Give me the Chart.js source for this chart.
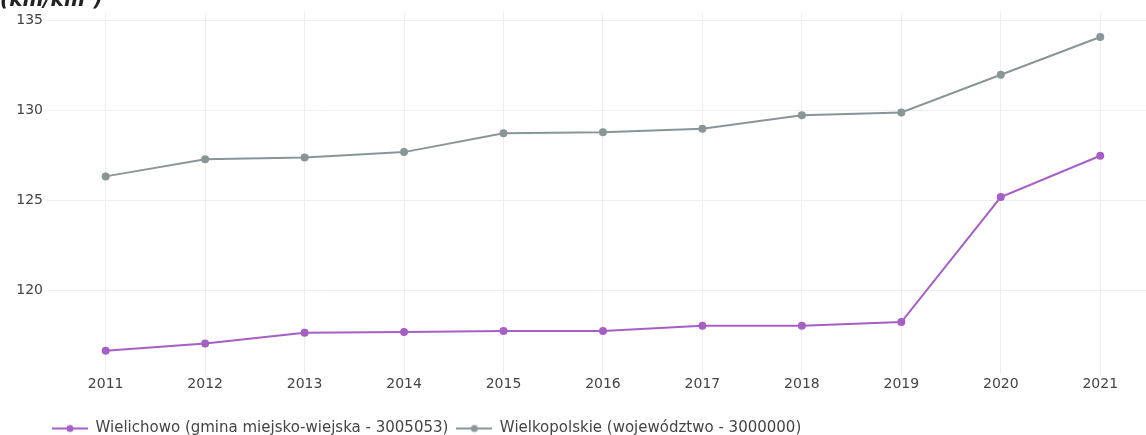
<!DOCTYPE html>
<html>
<head>
<meta charset="utf-8">
<script src="https://cdn.jsdelivr.net/npm/chart.js@4/dist/chart.umd.min.js"></script>
<style>
  html, body { margin: 0; padding: 0; background: #fff; overflow: hidden; }
  #wrap { position: relative; width: 1146px; height: 435px; }
  #unit { position: absolute; left: 0; top: -13px; font: italic bold 20px "DejaVu Sans", sans-serif; color: #222; }
</style>
</head>
<body>
<div id="wrap">
  <canvas id="wykres" width="1146" height="435"></canvas>
  <div id="unit">(km/km²)</div>
</div>
<script>
// lata i wartosci
const lata = [2011, 2012, 2013, 2014, 2015, 2016, 2017, 2018, 2019, 2020, 2021];
const wielichowo = [116.65, 117.05, 117.65, 117.7, 117.75, 117.75, 118.05, 118.05, 118.25, 125.2, 127.5];
const wielkopolskie = [126.35, 127.3, 127.4, 127.7, 128.75, 128.8, 129.0, 129.75, 129.9, 132.0, 134.1];
const etykiety = ['Wielichowo (gmina miejsko-wiejska - 3005053)', 'Wielkopolskie (województwo - 3000000)'];
const yTicks = [120, 125, 130, 135];

const fioletowy = '#a55fc5';
const szary = '#8a9696';

function symbol(kolor){ // kreska z kropka jak w legendzie plotly
  const c = document.createElement('canvas');
  c.width = 36; c.height = 10;
  const g = c.getContext('2d');
  g.strokeStyle = kolor; g.lineWidth = 2;
  g.beginPath(); g.moveTo(0, 5); g.lineTo(36, 5); g.stroke();
  g.fillStyle = kolor;
  g.beginPath(); g.arc(18, 5, 3.5, 0, Math.PI * 2); g.fill();
  return c;
}

const punkty = function(arr){
  return arr.map(function(v, i){ return {x: lata[i], y: v}; });
};

// przesuniecie legendy jak w oryginale
const legendaPrzesun = {
  id: 'legendaPrzesun',
  afterLayout: function(chart){
    if (chart.legend) { chart.legend.left = 44; chart.legend.top += 3; }
  }
};

const ctx = document.getElementById('wykres').getContext('2d');
const myChart = new Chart(ctx, {
  type: 'line',
  data: {
    datasets: [{
      label: etykiety[0],
      data: punkty(wielichowo),
      borderColor: fioletowy,
      backgroundColor: fioletowy,
      borderWidth: 2,
      pointRadius: 3,
      tension: 0
    },{
      label: etykiety[1],
      data: punkty(wielkopolskie),
      borderColor: szary,
      backgroundColor: szary,
      borderWidth: 2,
      pointRadius: 3,
      tension: 0
    }]
  },
  plugins: [legendaPrzesun],
  options: {
    responsive: false,
    animation: false,
    layout: { autoPadding: false, padding: { top: 9, right: 0, bottom: -8, left: 0 } },
    plugins: {
      tooltip: { enabled: false },
      legend: {
        position: 'bottom',
        align: 'start',
        labels: {
          usePointStyle: true,
          pointStyleWidth: 36,
          generateLabels: function(chart){
            return chart.data.datasets.map(function(ds, i){
              return {
                text: ds.label,
                pointStyle: symbol(ds.borderColor),
                fillStyle: ds.borderColor,
                strokeStyle: ds.borderColor,
                lineWidth: 0,
                fontColor: '#444',
                datasetIndex: i
              };
            });
          },
          font: { family: 'DejaVu Sans', size: 15 },
          color: '#444',
          padding: 8
        }
      }
    },
    scales: {
      x: {
        type: 'linear',
        min: 2010.41,
        max: 2021.46,
        afterBuildTicks: function(scale){
          scale.ticks = lata.map(function(r){ return {value: r}; });
        },
        afterFit: function(scale){ scale.height = 36; },
        grid: { color: '#eeeeee', drawTicks: false },
        border: { display: false },
        ticks: {
          color: '#444',
          font: { family: 'DejaVu Sans', size: 14 },
          padding: 2,
          maxRotation: 0,
          callback: function(v){ return String(v); }
        }
      },
      y: {
        min: 115.36,
        max: 135.47,
        afterBuildTicks: function(scale){
          scale.ticks = yTicks.map(function(t){ return {value: t}; });
        },
        afterFit: function(scale){ scale.width = 47; },
        grid: { color: '#eeeeee', drawTicks: false },
        border: { display: false },
        ticks: {
          color: '#444',
          font: { family: 'DejaVu Sans', size: 14 },
          padding: 4
        }
      }
    }
  }
});
</script>
</body>
</html>
